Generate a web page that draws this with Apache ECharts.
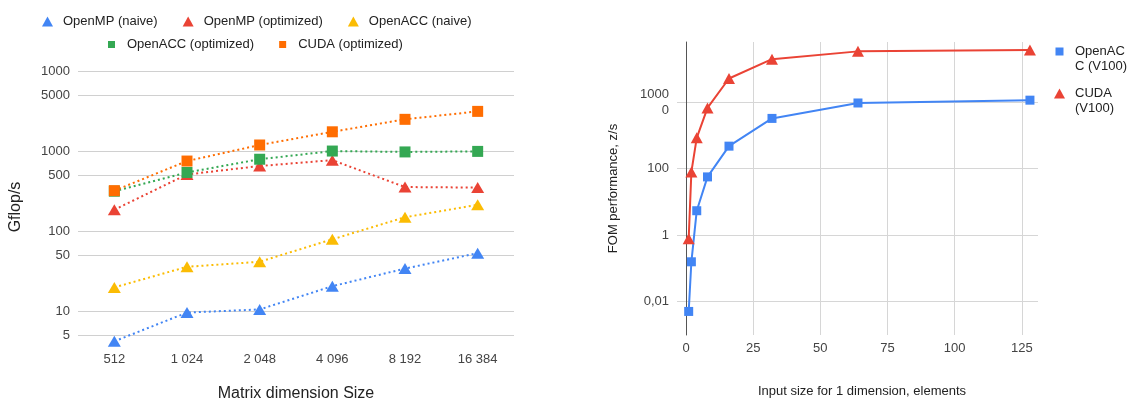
<!DOCTYPE html>
<html>
<head>
<meta charset="utf-8">
<script src="https://cdn.jsdelivr.net/npm/echarts@6/dist/echarts.min.js"></script>
<style>
html,body{margin:0;padding:0;background:#fff;}
#chart{width:1133px;height:401px;}
</style>
</head>
<body>
<div id="chart"></div>
<script>
// ---- Left chart data ----
var leftCategories = ['512', '1 024', '2 048', '4 096', '8 192', '16 384'];
var ompNaive = [4.2, 9.6, 10.5, 20.5, 34, 53];
var ompOpt = [185, 510, 650, 770, 355, 350];
var accNaive = [19.8, 35.8, 41.4, 79, 149, 213];
var accOpt = [315, 540, 790, 1000, 975, 990];
var cudaOpt = [320, 750, 1190, 1740, 2490, 3130];
var leftTickValues = [5, 10, 50, 100, 500, 1000, 5000, 10000];
var leftTickLabels = ['5', '10', '50', '100', '500', '1000', '5000', '1000'];

// ---- Right chart data ----
var rightX = [1, 2, 4, 8, 16, 32, 64, 128];
var accV100 = [0.0051, 0.158, 5.4, 56, 470, 3200, 9300, 11300];
var cudaV100 = [0.78, 79, 835, 6600, 50500, 193000, 330000, 362000];
var rightTickValues = [0.01, 1, 100, 10000];
var rightTickLabels = ['0,01', '1', '100', '1000\n0'];
var rightXTicks = [0, 25, 50, 75, 100, 125];
var rightLegendLabels = {'OpenACC (V100)': '\nOpenAC\nC (V100)', 'CUDA (V100)': '\nCUDA\n(V100)'};

var FONT = "'Liberation Sans', Arial, sans-serif";
var C = {blue: '#4285F4', red: '#EA4335', yellow: '#FBBC04', green: '#34A853', orange: '#FF6D01'};
var squareIconSmall = 'path://M2,1.5h7v7h-7z M0,0h0.001v0.001h-0.001z M11,10h0.001v0.001h-0.001z';
var squareIconBig = 'path://M1.5,1h8v8h-8z M0,0h0.001v0.001h-0.001z M11,10h0.001v0.001h-0.001z';

function pair(xs, ys) { return xs.map(function (x, i) { return [x, ys[i]]; }); }
function lookup(vals, labels) {
  return function (v) {
    for (var i = 0; i < vals.length; i++) {
      if (Math.abs(Math.log10(v) - Math.log10(vals[i])) < 1e-6) return labels[i];
    }
    return '';
  };
}

var dotted = function (color) {
  return {color: color, width: 2, type: [2, 3]};
};

var chart = echarts.init(document.getElementById('chart'), null, {renderer: 'canvas'});
var option = {
  animation: false,
  textStyle: {fontFamily: FONT},
  legend: [
    {
      left: 42, top: 15, padding: 0, itemGap: 25, itemWidth: 11, itemHeight: 10,
      textStyle: {fontFamily: FONT, fontSize: 13, color: '#222', padding: [0, 0, 0, 5]},
      data: [
        {name: 'OpenMP (naive)', icon: 'triangle'},
        {name: 'OpenMP (optimized)', icon: 'triangle'},
        {name: 'OpenACC (naive)', icon: 'triangle'}
      ]
    },
    {
      left: 106, top: 38, padding: 0, itemGap: 23, itemWidth: 11, itemHeight: 10,
      textStyle: {fontFamily: FONT, fontSize: 13, color: '#222', padding: [0, 0, 0, 5]},
      data: [
        {name: 'OpenACC (optimized)', icon: squareIconSmall},
        {name: 'CUDA (optimized)', icon: squareIconSmall}
      ]
    },
    {
      orient: 'vertical', left: 1054, top: 29, padding: 0, itemGap: -3, itemWidth: 11, itemHeight: 10,
      formatter: function (name) { return rightLegendLabels[name]; },
      textStyle: {fontFamily: FONT, fontSize: 13, color: '#222', lineHeight: 15, padding: [0, 0, 0, 5]},
      data: [
        {name: 'OpenACC (V100)', icon: squareIconBig},
        {name: 'CUDA (V100)', icon: 'triangle'}
      ]
    }
  ],
  grid: [
    {left: 78, top: 71, width: 436, height: 272, containLabel: false, outerBoundsMode: 'none'},
    {left: 686, top: 42, width: 352, height: 293, containLabel: false, outerBoundsMode: 'none'}
  ],
  xAxis: [
    {
      gridIndex: 0, type: 'category', data: leftCategories, boundaryGap: true,
      axisLine: {show: false}, axisTick: {show: false}, splitLine: {show: false},
      axisLabel: {fontFamily: FONT, fontSize: 13, color: '#444', margin: 10},
      name: 'Matrix dimension Size', nameLocation: 'middle', nameGap: 43,
      nameTextStyle: {fontFamily: FONT, fontSize: 16, color: '#222'}
    },
    {
      gridIndex: 1, type: 'value', min: 0, max: 131, interval: 25,
      axisLine: {show: false}, axisTick: {show: false},
      splitLine: {show: true, showMaxLine: false, lineStyle: {color: '#d6d6d6', width: 1}},
      axisLabel: {fontFamily: FONT, fontSize: 13, color: '#444', margin: 7,
        customValues: rightXTicks},
      name: 'Input size for 1 dimension, elements', nameLocation: 'middle', nameGap: 50,
      nameTextStyle: {fontFamily: FONT, fontSize: 13, color: '#222'}
    }
  ],
  yAxis: [
    {
      gridIndex: 0, type: 'log', min: 4, max: 10000,
      axisLine: {show: false},
      axisTick: {show: false, customValues: leftTickValues},
      splitLine: {show: true, lineStyle: {color: '#d0d0d0', width: 1}},
      axisLabel: {fontFamily: FONT, fontSize: 13, color: '#444', margin: 8,
        customValues: leftTickValues, formatter: lookup(leftTickValues, leftTickLabels)},
      name: 'Gflop/s', nameLocation: 'middle', nameGap: 54, nameRotate: 90,
      nameTextStyle: {fontFamily: FONT, fontSize: 16, color: '#222'}
    },
    {
      gridIndex: 1, type: 'log', min: 0.001, max: 631000,
      axisLine: {show: true, lineStyle: {color: '#555', width: 1}},
      axisTick: {show: true, length: 9, customValues: rightTickValues, lineStyle: {color: '#d6d6d6'}},
      splitLine: {show: true, lineStyle: {color: '#d6d6d6', width: 1}},
      axisLabel: {fontFamily: FONT, fontSize: 13, color: '#444', margin: 17, lineHeight: 16,
        customValues: rightTickValues, formatter: lookup(rightTickValues, rightTickLabels)},
      name: 'FOM performance, z/s', nameLocation: 'middle', nameGap: 66, nameRotate: 90,
      nameTextStyle: {fontFamily: FONT, fontSize: 13, color: '#222'}
    }
  ],
  series: [
    {name: 'OpenMP (naive)', type: 'line', xAxisIndex: 0, yAxisIndex: 0, data: ompNaive,
      symbol: 'triangle', symbolSize: [13, 11], itemStyle: {color: C.blue}, lineStyle: dotted(C.blue)},
    {name: 'OpenMP (optimized)', type: 'line', xAxisIndex: 0, yAxisIndex: 0, data: ompOpt,
      symbol: 'triangle', symbolSize: [13, 11], itemStyle: {color: C.red}, lineStyle: dotted(C.red)},
    {name: 'OpenACC (naive)', type: 'line', xAxisIndex: 0, yAxisIndex: 0, data: accNaive,
      symbol: 'triangle', symbolSize: [13, 11], itemStyle: {color: C.yellow}, lineStyle: dotted(C.yellow)},
    {name: 'OpenACC (optimized)', type: 'line', xAxisIndex: 0, yAxisIndex: 0, data: accOpt,
      symbol: 'rect', symbolSize: 11, itemStyle: {color: C.green}, lineStyle: dotted(C.green)},
    {name: 'CUDA (optimized)', type: 'line', xAxisIndex: 0, yAxisIndex: 0, data: cudaOpt,
      symbol: 'rect', symbolSize: 11, itemStyle: {color: C.orange}, lineStyle: dotted(C.orange)},
    {name: 'OpenACC (V100)', type: 'line', xAxisIndex: 1, yAxisIndex: 1, data: pair(rightX, accV100),
      symbol: 'rect', symbolSize: 9, itemStyle: {color: C.blue}, lineStyle: {color: C.blue, width: 2}},
    {name: 'CUDA (V100)', type: 'line', xAxisIndex: 1, yAxisIndex: 1, data: pair(rightX, cudaV100),
      symbol: 'triangle', symbolSize: [12, 11], itemStyle: {color: C.red}, lineStyle: {color: C.red, width: 2}}
  ]
};
chart.setOption(option);
</script>
</body>
</html>
